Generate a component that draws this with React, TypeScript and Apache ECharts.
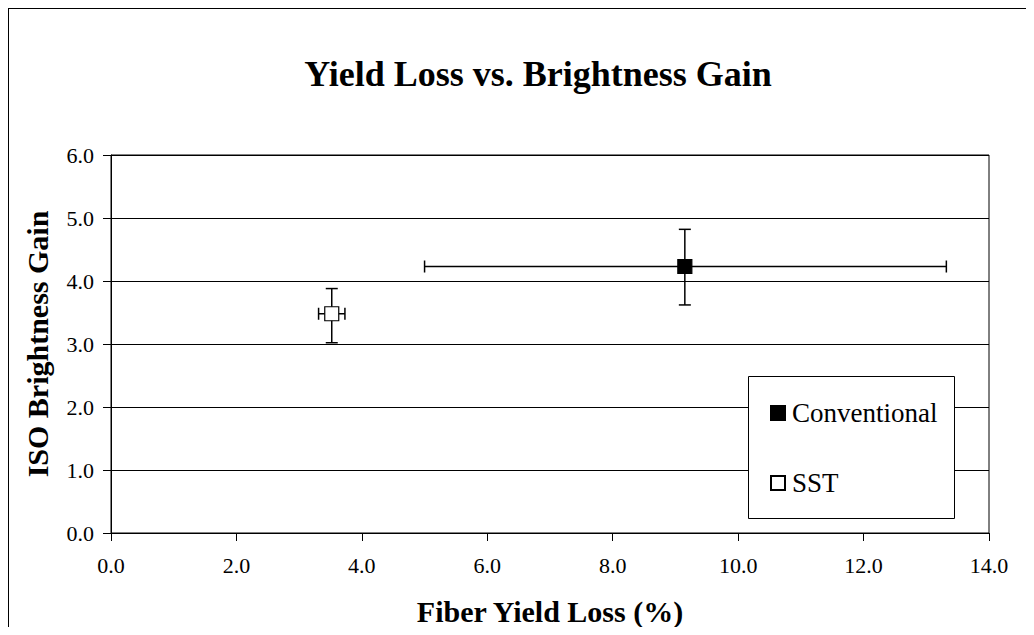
import React, { useEffect, useRef } from "react";
import * as echarts from "echarts";

const seriesNames = ["Conventional", "SST"];
const xValues = [9.15, 3.52];
const yValues = [4.23, 3.48];
const xLow = [5.0, 3.31];
const xHigh = [13.32, 3.73];
const yLow = [3.62, 3.02];
const yHigh = [4.82, 3.88];
const markerFill = ["#000000", "#ffffff"];

const FONT = "'Liberation Serif', serif";

export default function App() {
  const ref = useRef<HTMLDivElement>(null);
  useEffect(() => {
    if (!ref.current) return;
    const chart = echarts.init(ref.current, null, { renderer: "svg" });
    const errData = xValues.map((x, i) => [x, yValues[i], xLow[i], xHigh[i], yLow[i], yHigh[i]]);
    const option: any = {
      animation: false,
      backgroundColor: "#ffffff",
      title: {
        text: "Yield Loss vs. Brightness Gain",
        left: 524,
        top: 42,
        textAlign: "center",
        textStyle: { fontFamily: FONT, fontSize: 36, fontWeight: "bold", color: "#000" },
      },
      grid: {
        left: 102,
        top: 146,
        width: 878,
        height: 378,
        containLabel: false,
        outerBoundsMode: "none",
        show: true,
        borderColor: "#000",
        borderWidth: 1,
        backgroundColor: "transparent",
      },
      xAxis: {
        type: "value",
        min: 0,
        max: 14,
        interval: 2,
        name: "Fiber Yield Loss (%)",
        nameLocation: "middle",
        nameGap: 63,
        nameTextStyle: { fontFamily: FONT, fontSize: 30, fontWeight: "bold", color: "#000" },
        axisLine: { show: true, lineStyle: { color: "#000", width: 1 } },
        axisTick: { show: true, inside: false, length: 8, lineStyle: { color: "#000" } },
        axisLabel: {
          margin: 21,
          fontFamily: FONT,
          fontSize: 22,
          color: "#000",
          formatter: (v: number) => v.toFixed(1),
        },
        splitLine: { show: false },
      },
      yAxis: {
        type: "value",
        min: 0,
        max: 6,
        interval: 1,
        name: "ISO Brightness Gain",
        nameLocation: "middle",
        nameGap: 59,
        nameTextStyle: { fontFamily: FONT, fontSize: 30, fontWeight: "bold", color: "#000" },
        axisLine: { show: true, lineStyle: { color: "#000", width: 1 } },
        axisTick: { show: true, inside: false, length: 8, lineStyle: { color: "#000" } },
        axisLabel: {
          margin: 17,
          fontFamily: FONT,
          fontSize: 22,
          color: "#000",
          formatter: (v: number) => v.toFixed(1),
        },
        splitLine: { show: true, lineStyle: { color: "#000", width: 1 } },
      },
      legend: {
        orient: "vertical",
        left: 761,
        top: 390,
        itemWidth: 14,
        itemHeight: 14,
        itemGap: 42,
        padding: 0,
        data: seriesNames,
        textStyle: { fontFamily: FONT, fontSize: 27, color: "#000", lineHeight: 28, padding: [0, 0, 0, 2] },
        z: 10,
      },
      graphic: [
        {
          type: "rect",
          left: 739,
          top: 367,
          shape: { x: 0, y: 0, width: 206, height: 142 },
          style: { fill: "#ffffff", stroke: "#000", lineWidth: 1 },
          z: 5,
        },
      ],
      series: [
        {
          type: "custom",
          name: "errors",
          z: 2,
          data: errData,
          renderItem: (params: any, api: any) => {
            const cx = api.value(0);
            const cy = api.value(1);
            const xl = api.coord([api.value(2), cy]);
            const xh = api.coord([api.value(3), cy]);
            const yl = api.coord([cx, api.value(4)]);
            const yh = api.coord([cx, api.value(5)]);
            const st = { stroke: "#000", lineWidth: 1.5 };
            const cap = 6;
            return {
              type: "group",
              children: [
                { type: "line", shape: { x1: xl[0], y1: xl[1], x2: xh[0], y2: xh[1] }, style: st },
                { type: "line", shape: { x1: xl[0], y1: xl[1] - cap, x2: xl[0], y2: xl[1] + cap }, style: st },
                { type: "line", shape: { x1: xh[0], y1: xh[1] - cap, x2: xh[0], y2: xh[1] + cap }, style: st },
                { type: "line", shape: { x1: yl[0], y1: yl[1], x2: yh[0], y2: yh[1] }, style: st },
                { type: "line", shape: { x1: yl[0] - cap, y1: yl[1], x2: yl[0] + cap, y2: yl[1] }, style: st },
                { type: "line", shape: { x1: yh[0] - cap, y1: yh[1], x2: yh[0] + cap, y2: yh[1] }, style: st },
              ],
            };
          },
        },
        ...seriesNames.map((name, i) => ({
          type: "scatter",
          name,
          z: 3,
          symbol: "rect",
          symbolSize: 14,
          data: [[xValues[i], yValues[i]]],
          itemStyle: { color: markerFill[i], borderColor: "#000", borderWidth: 1.2, opacity: 1 },
        })),
      ],
    };
    chart.setOption(option);
    return () => chart.dispose();
  }, []);
  return (
    <div
      ref={ref}
      style={{
        width: 1018,
        height: 627,
        marginBottom: -8,
        boxSizing: "border-box",
        borderLeft: "1px solid #000",
        borderTop: "1px solid #000",
      }}
    />
  );
}
